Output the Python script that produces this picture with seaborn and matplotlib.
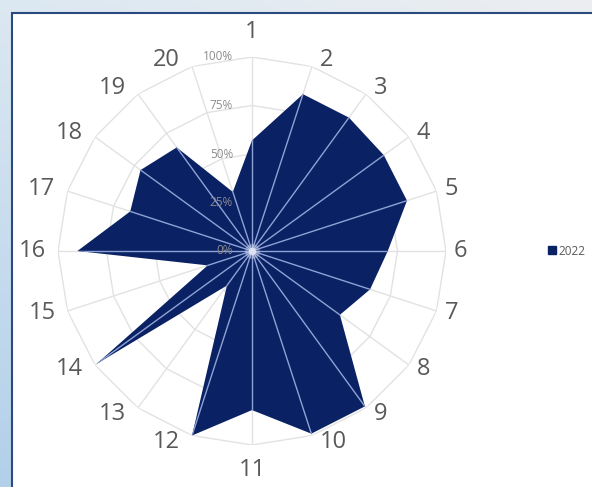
import numpy as np
import matplotlib
matplotlib.use("Agg")
import matplotlib.pyplot as plt
from matplotlib.patches import Rectangle
from matplotlib.lines import Line2D
import seaborn as sns

# ---------------- data ----------------
categories = [str(i) for i in range(1, 21)]
values_2022 = [57, 85, 85, 84, 84, 70, 64, 56, 99, 99, 82, 100, 22, 99, 24, 90, 66, 71, 66, 32]
radial_ticks = [0, 25, 50, 75, 100]
radial_labels = ["0%", "25%", "50%", "75%", "100%"]
series_name = "2022"

# ---------------- style ----------------
sns.set_theme(style="white")
plt.rcParams["font.family"] = ["Open Sans", "DejaVu Sans"]

NAVY = "#0a2264"
LABEL = "#595959"
GRID = "#e2e2e2"

W, H = 592, 487
fig = plt.figure(figsize=(W / 100, H / 100), dpi=100)

# ---------------- background (screenshot frame) ----------------
bg = fig.add_axes([0, 0, 1, 1], zorder=0)
bg.set_axis_off()
yy, xx = np.mgrid[0:1:H * 1j, 0:1:W * 1j]
TL = np.array([220, 232, 242]) / 255
TR = np.array([236, 238, 241]) / 255
BL = np.array([178, 208, 234]) / 255
BR = np.array([225, 232, 240]) / 255
grad = ((1 - yy)[..., None] * ((1 - xx)[..., None] * TL + xx[..., None] * TR)
        + yy[..., None] * ((1 - xx)[..., None] * BL + xx[..., None] * BR))
bg.imshow(grad, extent=[0, 1, 0, 1], aspect="auto", origin="upper")
bg.add_patch(Rectangle((12 / W, -0.05), 1.2, (H - 13) / H + 0.05,
                       facecolor="white", edgecolor="#2b4a7e", lw=1.5,
                       transform=bg.transAxes))
bg.set_xlim(0, 1)
bg.set_ylim(0, 1)

# ---------------- radar ----------------
cx, cy, R = 252, 251, 194
ax = fig.add_axes([(cx - R) / W, (H - cy - R) / H, 2 * R / W, 2 * R / H],
                  projection="polar", zorder=1)
ax.set_facecolor("none")
ax.set_theta_zero_location("N")
ax.set_theta_direction(-1)
ax.set_ylim(0, 100)
ax.grid(False)
ax.spines["polar"].set_visible(False)
ax.set_xticks([])
ax.set_yticks([])

n = len(categories)
angles = np.arange(n) * 2 * np.pi / n
closed = np.append(angles, angles[0])

# polygonal grid rings
for t in radial_ticks[1:]:
    ax.plot(closed, [t] * (n + 1), color=GRID, lw=1, zorder=0.5)
# spokes (behind)
for a in angles:
    ax.plot([a, a], [0, 100], color=GRID, lw=1, zorder=0.5)

# filled series
vals = np.append(values_2022, values_2022[0])
poly = ax.fill(closed, vals, color=NAVY, lw=0, zorder=2, label=series_name)[0]

# spokes visible on top of the fill (clipped to the fill)
for a in angles:
    ln, = ax.plot([a, a], [0, 100], color="#8fa2d6", lw=1, zorder=3)
    ln.set_clip_path(poly)

# center glow
ax.scatter([0], [0], s=120, color="white", alpha=0.25, zorder=4, lw=0)
ax.scatter([0], [0], s=30, color="white", alpha=0.6, zorder=4, lw=0)

# radial value labels
for t, lab in zip(radial_ticks, radial_labels):
    ax.annotate(lab, xy=(0, t), xytext=(-19, 0), textcoords="offset pixels",
                ha="right", va="center", fontsize=8.5, color="#8c8c8c",
                zorder=5, annotation_clip=False)

# category labels
for a, cat in zip(angles, categories):
    s, c = np.sin(a), np.cos(a)
    if abs(s) < 1e-6:
        ha = "center"
        va = "bottom" if c > 0 else "top"
        dx, dy = 0, 13 * np.sign(c)
    else:
        ha = "left" if s > 0 else "right"
        va = "center"
        dx, dy = (8 if s > 0 else -12), 7 * c
    ax.annotate(cat, xy=(a, 100), xytext=(dx, dy), textcoords="offset pixels",
                ha=ha, va=va, fontsize=17, color=LABEL, annotation_clip=False)

# legend
handle = Line2D([], [], marker="s", ls="", color=NAVY, markersize=6)
fig.legend([handle], [series_name], loc="center left",
           bbox_to_anchor=(540 / W, 1 - 251 / H), frameon=False,
           fontsize=8.5, handletextpad=0.1, borderpad=0, handlelength=1.0,
           labelcolor=LABEL)

fig.savefig("out.png", dpi=100)
